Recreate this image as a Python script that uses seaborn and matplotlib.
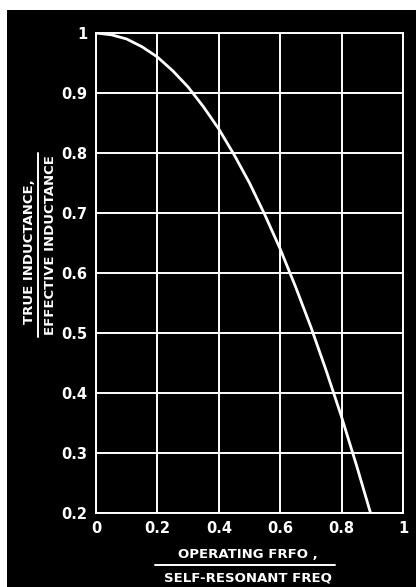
import numpy as np
import pandas as pd
import matplotlib
matplotlib.use("Agg")
import matplotlib.pyplot as plt
from matplotlib.patches import Rectangle
from matplotlib.lines import Line2D
import seaborn as sns

# curve
freq_ratio = [0.0, 0.05, 0.1, 0.15, 0.2, 0.25, 0.3, 0.35, 0.4, 0.45, 0.5,
              0.55, 0.6, 0.65, 0.7, 0.75, 0.8, 0.85, 0.9]
ind_ratio = [1.0, 0.997, 0.99, 0.977, 0.96, 0.937, 0.91, 0.877, 0.84, 0.797, 0.75,
             0.697, 0.64, 0.577, 0.51, 0.437, 0.36, 0.277, 0.19]

x_ticks = [0, 0.2, 0.4, 0.6, 0.8, 1.0]
x_labels = ["0", "0.2", "0.4", "0.6", "0.8", "1"]
y_ticks = [0.2, 0.3, 0.4, 0.5, 0.6, 0.7, 0.8, 0.9, 1.0]
y_labels = ["0.2", "0.3", "0.4", "0.5", "0.6", "0.7", "0.8", "0.9", "1"]

df = pd.DataFrame({"f": freq_ratio, "L": ind_ratio})

sns.set_style("dark", {"axes.facecolor": "black", "grid.color": "white"})
plt.rcParams['font.family'] = ['DejaVu Sans']

W, H = 416, 587
fig = plt.figure(figsize=(W / 100, H / 100), dpi=100, facecolor="white")
# black scan background
fig.patches.append(Rectangle((7 / W, 0), 1, 1 - 10 / H, transform=fig.transFigure,
                             facecolor="black", edgecolor="none", zorder=-5))

ax = fig.add_axes([96 / W, 1 - 513 / H, (403 - 96) / W, (513 - 33) / H])
ax.set_facecolor("black")
sns.lineplot(data=df, x="f", y="L", ax=ax, color="white", linewidth=2.0,
             estimator=None, sort=False, zorder=3)

ax.set_xlim(0, 1)
ax.set_ylim(0.2, 1)
ax.set_xticks(x_ticks)
ax.set_xticklabels(x_labels, fontweight="semibold")
ax.set_yticks(y_ticks)
ax.set_yticklabels(y_labels, fontweight="semibold")
ax.grid(True, color="white", linewidth=1.4)
ax.tick_params(length=0, pad=6, labelsize=10.5, colors="white")
for s in ax.spines.values():
    s.set_visible(True)
    s.set_color("white")
    s.set_linewidth(1.4)
ax.set_xlabel("")
ax.set_ylabel("")

# fraction-style axis labels
txt = dict(color="white", fontsize=9.5, fontweight="bold", ha="center", va="center")
fig.text(30 / W, 1 - 252 / H, "TRUE INDUCTANCE,", rotation=90, **txt)
fig.text(51 / W, 1 - 245 / H, "EFFECTIVE INDUCTANCE", rotation=90, **txt)
fig.lines.append(Line2D([38 / W, 38 / W], [1 - 153 / H, 1 - 337 / H],
                        transform=fig.transFigure, color="white", linewidth=1.4))

fig.text(248 / W, 1 - 555 / H, "OPERATING FRFO ,", **txt)
fig.text(248 / W, 1 - 578 / H, "SELF-RESONANT FREQ", **txt)
fig.lines.append(Line2D([155 / W, 335 / W], [1 - 565 / H, 1 - 565 / H],
                        transform=fig.transFigure, color="white", linewidth=1.4))

fig.savefig("out.png", dpi=100, facecolor="white")
